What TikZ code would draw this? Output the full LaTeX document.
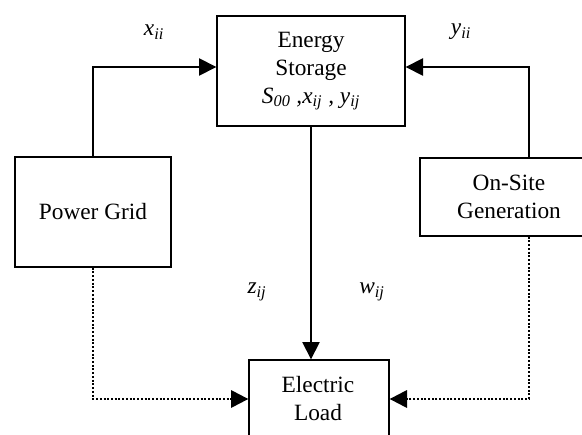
\documentclass[tikz,border=0pt]{standalone}
\usepackage{fontspec}
\setmainfont{Liberation Serif}
\usetikzlibrary{arrows.meta, calc}

\begin{document}
\begin{tikzpicture}[x=0.75pt, y=-0.75pt,
      font=\fontsize{17.5}{21}\selectfont,
      box/.style={draw, line width=1pt, align=center, inner sep=0pt},
      txt/.style={align=center, inner sep=0pt},
      arrow/.style={-{Triangle[length=13pt, width=13pt]}, line width=1pt},
      dotarrow/.style={arrow, line width=1.8pt, dash pattern=on 1.5pt off 1.3pt},
      lbl/.style={font=\fontsize{17.5}{21}\selectfont\itshape}
    ]
      \useasboundingbox (0,0) rectangle (582,435);
      \clip (0,0) rectangle (582,435);
      \node[box, minimum width=141pt, minimum height=82.5pt] (store) at (311,71) {Energy\\Storage\\\textit{S\textsubscript{00} ,x\textsubscript{ij} , y\textsubscript{ij}}};
      \node[box, minimum width=117pt, minimum height=82.5pt] (grid) at (93,212) {Power Grid};
      % these two boxes run off the page edge
      \node[box, minimum width=240pt, minimum height=58.5pt] (onsite) at (580,197) {};
      \node[txt] (onsitetxt) at (509,197) {On-Site\\Generation};
      \node[box, minimum width=105pt, minimum height=90pt] (load) at (319,420) {};
      \node[txt] (loadtxt) at (318,399) {Electric\\Load};
      \coordinate (gen) at (529,0 |- onsite.north);
      \coordinate (genb) at (529,0 |- onsite.south);
      % flows
      \draw[arrow] (grid.north) |- ($(store.west)+(0,-4)$);
      \draw[arrow] (gen) |- ($(store.east)+(0,-4)$);
      \draw[arrow] (store.south) -- (store.south |- load.north);
      \draw[dotarrow] (grid.south) |- (load.west |- loadtxt);
      \draw[dotarrow] (genb) |- (load.east |- loadtxt);
      % labels
      \node[lbl] (xii) at (154,32) {x\textsubscript{ii}};
      \node[lbl] (yii) at (461,32) {y\textsubscript{ii}};
      \node[lbl] (zij) at (257,292) {z\textsubscript{ij}};
      \node[lbl] (wij) at (372,292) {w\textsubscript{ij}};
    \end{tikzpicture}
\end{document}
